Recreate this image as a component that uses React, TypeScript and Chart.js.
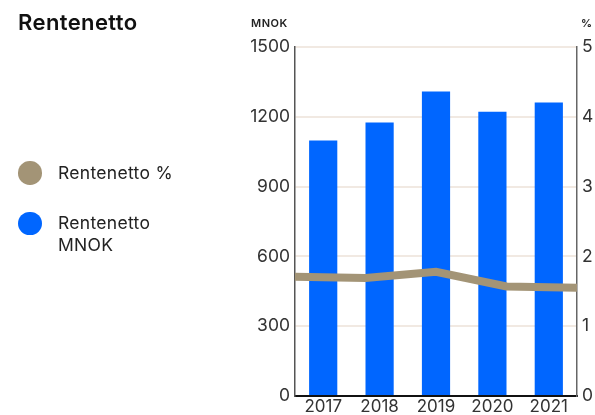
import React, { useEffect, useRef } from "react";
import { Chart, registerables } from "chart.js";

Chart.register(...registerables);

const years = ["2017", "2018", "2019", "2020", "2021"];
const renteMNOK = [1098, 1175, 1309, 1222, 1261];
const rentePct = [1.71, 1.69, 1.78, 1.57, 1.55];
const leftTicks = [0, 300, 600, 900, 1200, 1500];
const rightTicks = [0, 1, 2, 3, 4, 5];
const title = "Rentenetto";
const pctLabel = "Rentenetto %";
const mnokLabel = "Rentenetto MNOK";

const BLUE = "#0066ff";
const TAUPE = "#a39476";
const FONT = "Inter, 'Noto Sans', sans-serif";

export default function App() {
  const ref = useRef<HTMLCanvasElement | null>(null);

  useEffect(() => {
    document.body.style.margin = "0";
    const ctx = ref.current!.getContext("2d")!;
    const chart = new Chart(ctx, {
      type: "bar",
      data: {
        labels: years,
        datasets: [
          {
            type: "line",
            label: pctLabel,
            data: rentePct,
            borderColor: TAUPE,
            backgroundColor: TAUPE,
            borderWidth: 8,
            pointRadius: 0,
            borderCapStyle: "butt",
            borderJoinStyle: "miter",
            yAxisID: "y2",
            xAxisID: "x2",
            order: 0,
          } as any,
          {
            type: "bar",
            label: mnokLabel,
            data: renteMNOK,
            backgroundColor: BLUE,
            borderWidth: 0,
            grouped: false,
            categoryPercentage: 0.5,
            barPercentage: 1,
            yAxisID: "y",
            xAxisID: "x",
            order: 1,
          } as any,
        ],
      },
      options: {
        responsive: false,
        animation: false,
        maintainAspectRatio: false,
        layout: { padding: { top: 47, left: 0, right: 0, bottom: 0 } },
        plugins: { legend: { display: false }, tooltip: { enabled: false }, title: { display: false } },
        scales: {
          x: {
            type: "category",
            offset: true,
            grid: { display: false, drawTicks: false },
            border: { color: "#111", width: 2 },
            ticks: { color: "#333", font: { family: FONT, size: 17 }, padding: 1 },
            afterFit: (s: any) => { s.height = 19; },
          },
          x2: {
            type: "category",
            labels: years,
            offset: false,
            display: false,
          },
          y: {
            position: "left",
            min: 0,
            max: 1500,
            afterBuildTicks: (s: any) => { s.ticks = leftTicks.map((v) => ({ value: v })); },
            grid: { color: "#f1e9e2", lineWidth: 2, drawTicks: false },
            border: { color: "#555", width: 1.5 },
            ticks: {
              color: "#333",
              font: { family: FONT, size: 17.5 },
              padding: 5,
              callback: (v: any) => String(v),
            },
            afterFit: (s: any) => { s.width = 295; },
          },
          y2: {
            position: "right",
            min: 0,
            max: 5,
            afterBuildTicks: (s: any) => { s.ticks = rightTicks.map((v) => ({ value: v })); },
            grid: { display: false, drawTicks: false },
            border: { color: "#666", width: 1.5 },
            ticks: {
              color: "#333",
              font: { family: FONT, size: 17.5 },
              padding: 5,
              callback: (v: any) => String(v),
            },
            afterFit: (s: any) => { s.width = 18; },
          },
        },
      },
    });
    return () => chart.destroy();
  }, []);

  const legendItem = (color: string, text: string, circleTop: number, textTop: number) => (
    <>
      <div style={{ position: "absolute", left: 18, top: circleTop, width: 23.5, height: 23.5, borderRadius: "50%", background: color }} />
      <div style={{ position: "absolute", left: 58, top: textTop, width: 125, fontSize: 17.5, lineHeight: "21.5px", letterSpacing: 0.3, color: "#222" }}>{text}</div>
    </>
  );

  return (
    <div style={{ position: "relative", width: 595, height: 415, fontFamily: FONT, background: "#fff", overflow: "hidden" }}>
      <canvas ref={ref} width={595} height={415} style={{ position: "absolute", left: 0, top: 0 }} />
      <div style={{ position: "absolute", left: 18, top: 9, fontSize: 22, fontWeight: 600, letterSpacing: 0.4, color: "#111", lineHeight: "normal" }}>{title}</div>
      <div style={{ position: "absolute", left: 251, top: 15.5, fontSize: 11, fontWeight: 600, letterSpacing: 0.5, color: "#222" }}>MNOK</div>
      <div style={{ position: "absolute", left: 581, top: 15.5, fontSize: 11, fontWeight: 600, color: "#222" }}>%</div>
      {legendItem(TAUPE, pctLabel, 161, 161.5)}
      {legendItem(BLUE, mnokLabel, 211.5, 212.3)}
    </div>
  );
}
